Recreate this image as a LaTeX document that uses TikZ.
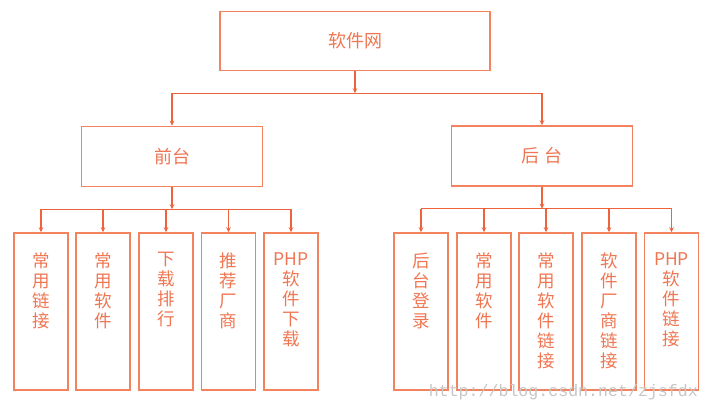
\documentclass[tikz,border=0pt]{standalone}
\usepackage{fontspec}
\newfontfamily\cjk{Noto Sans CJK SC}
\newfontfamily\wmfont{Liberation Mono}
\usetikzlibrary{arrows.meta,calc}
\definecolor{boxc}{RGB}{243,130,95}
\definecolor{linec}{RGB}{238,98,60}
\definecolor{txtc}{RGB}{240,118,82}
\tikzset{
	box/.style={draw=boxc, line width=1.5pt, fill=white, inner sep=0pt},
	topbox/.style={box, minimum width=270pt, minimum height=59pt, font=\cjk\fontsize{18}{20}\selectfont, text=txtc},
	midbox/.style={box, minimum width=181pt, minimum height=60pt, font=\cjk\fontsize{18}{20}\selectfont, text=txtc},
	leaf/.style={box, minimum width=54pt, minimum height=157pt},
	leaftxt/.style={anchor=north, yshift=-20pt, align=center, font=\cjk\fontsize{17.5}{20}\selectfont, text=txtc, inner sep=0pt},
	wire/.style={draw=linec, line width=1.1pt},
	arr/.style={wire, -{Stealth[length=5pt,width=4.5pt]}}
}
\begin{document}
\begin{tikzpicture}[x=1pt,y=-1pt]
	\useasboundingbox[fill=white] (0,0) rectangle (710,411);
	% top
	\node[topbox] (web) at (355,41) {软件网};
	% second level
	\node[midbox] (front) at (172,156.5) {前台};
	\node[midbox] (back) at (542,156) {后\,\,台};
	% leaves, front
	\node[leaf, label={[leaftxt]north:常\\用\\链\\接}] (f1) at (41,311.5) {};
	\node[leaf, label={[leaftxt]north:常\\用\\软\\件}] (f2) at (103,311.5) {};
	\node[leaf, label={[leaftxt]north:下\\载\\排\\行}] (f3) at (166,311.5) {};
	\node[leaf, label={[leaftxt]north:推\\荐\\厂\\商}] (f4) at (228.5,311.5) {};
	\node[leaf, label={[leaftxt]north:PHP\\软\\件\\下\\载}] (f5) at (291,311.5) {};
	% leaves, back
	\node[leaf, label={[leaftxt]north:后\\台\\登\\录}] (b1) at (421,311.5) {};
	\node[leaf, label={[leaftxt]north:常\\用\\软\\件}] (b2) at (484,311.5) {};
	\node[leaf, label={[leaftxt]north:常\\用\\软\\件\\链\\接}] (b3) at (546,311.5) {};
	\node[leaf, label={[leaftxt]north:软\\件\\厂\\商\\链\\接}] (b4) at (609,311.5) {};
	\node[leaf, label={[leaftxt]north:PHP\\软\\件\\链\\接}] (b5) at (671.5,311.5) {};
	% bus lines
	\coordinate (bus0) at ($(web.south)+(0,22)$);
	\coordinate (busf) at ($(front.south)+(0,22)$);
	\coordinate (busb) at ($(back.south)+(0,22)$);
	\draw[arr] (web.south) -- (bus0);
	\draw[wire] (bus0 -| front.north) -- (bus0 -| back.north);
	\foreach \n in {front,back}
		\draw[arr] (bus0 -| \n.north) -- (\n.north);
	\draw[arr] (front.south) -- (busf);
	\draw[wire] (busf -| f1.north) -- (busf -| f5.north);
	\foreach \n in {f1,f2,f3,f4,f5}
		\draw[arr] (busf -| \n.north) -- (\n.north);
	\draw[arr] (back.south) -- (busb);
	\draw[wire] (busb -| b1.north) -- (busb -| b5.north);
	\foreach \n in {b1,b2,b3,b4,b5}
		\draw[arr] (busb -| \n.north) -- (\n.north);
	% watermark
	\node[anchor=base east, inner sep=0pt, text=black!22, font=\wmfont\fontsize{16.6}{18}\selectfont] (mark) at (698,397) {http://blog.csdn.net/zjsfdx};
\end{tikzpicture}
\end{document}
